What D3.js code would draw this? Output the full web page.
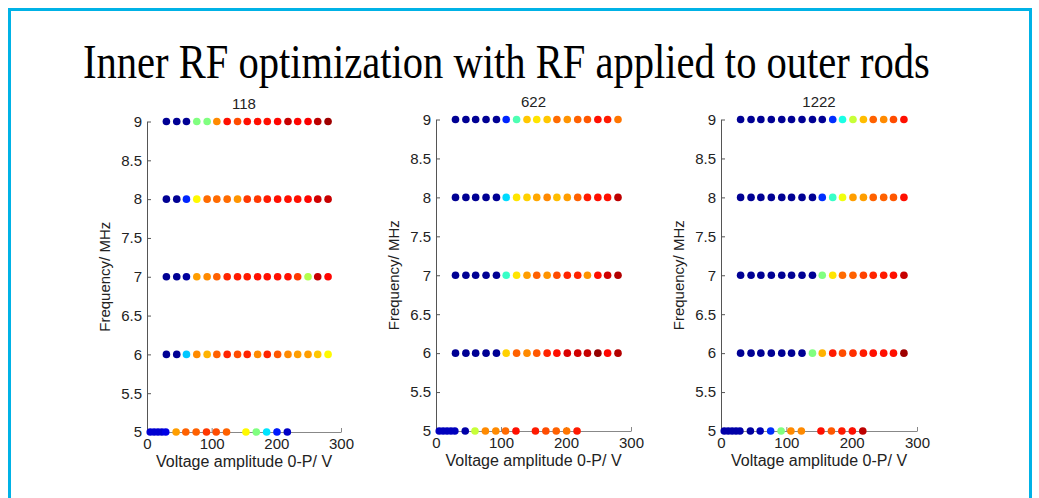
<!DOCTYPE html>
<html>
<head>
<meta charset="utf-8">
<script src="https://cdn.jsdelivr.net/npm/d3@7"></script>
<style>
  body { margin: 0; background: #fff; }
  text { font-family: "Liberation Sans", Arial, sans-serif; fill: #222; }
</style>
</head>
<body>
<script>
"use strict";

// frequencies (MHz), rows top to bottom
let frequencies = [9, 8, 7, 6, 5];
let yTicks = [5, 5.5, 6, 6.5, 7, 7.5, 8, 8.5, 9];
let xTicks = [0, 100, 200, 300];
let panelTitles = ["118", "622", "1222"];

// voltages used for the 6-9 MHz rows and for the 5 MHz row
let voltsFull = [30, 46, 61, 77, 93, 108, 124, 140, 155, 171, 186, 202, 218, 233, 249, 264, 280];
let voltsLow = [5, 11, 17, 23, 29, 45, 60, 76, 92, 107, 123, 153, 169, 185, 201, 217];

// relative signal (0..1 on the jet colour map), one row per frequency
let signal118 = [
  [0.02, 0.02, 0.02, 0.5, 0.5, 0.74, 0.86, 0.8, 0.86, 0.86, 0.86, 0.87, 0.93, 0.87, 0.88, 0.94, 0.97],
  [0.02, 0.02, 0.16, 0.63, 0.77, 0.77, 0.77, 0.73, 0.82, 0.82, 0.85, 0.86, 0.86, 0.86, 0.87, 0.92, 0.93],
  [0.02, 0.02, 0.03, 0.72, 0.74, 0.78, 0.84, 0.85, 0.85, 0.86, 0.86, 0.86, 0.86, 0.82, 0.55, 0.93, 0.87],
  [0.02, 0.02, 0.32, 0.74, 0.7, 0.78, 0.84, 0.8, 0.84, 0.74, 0.84, 0.79, 0.74, 0.72, 0.72, 0.68, 0.63],
  [0.08, 0.08, 0.08, 0.08, 0.1, 0.72, 0.78, 0.78, 0.82, 0.8, 0.78, 0.63, 0.5, 0.35, 0.15, 0.07]
];
let signal622 = [
  [0.02, 0.02, 0.02, 0.02, 0.02, 0.16, 0.45, 0.68, 0.65, 0.68, 0.77, 0.73, 0.78, 0.79, 0.86, 0.85, 0.76],
  [0.02, 0.02, 0.02, 0.02, 0.02, 0.34, 0.65, 0.67, 0.71, 0.74, 0.69, 0.72, 0.78, 0.85, 0.86, 0.86, 0.94],
  [0.02, 0.02, 0.02, 0.02, 0.02, 0.43, 0.65, 0.72, 0.78, 0.73, 0.8, 0.84, 0.84, 0.73, 0.86, 0.92, 0.95],
  [0.02, 0.02, 0.02, 0.02, 0.02, 0.67, 0.78, 0.74, 0.79, 0.84, 0.86, 0.91, 0.92, 0.93, 0.98, 0.87, 0.95],
  [0.06, 0.06, 0.06, 0.06, 0.06, 0.04, 0.57, 0.74, 0.74, 0.77, 0.86, 0.85, 0.8, 0.78, 0.76, 0.85]
];
let signal1222 = [
  [0.02, 0.02, 0.02, 0.02, 0.02, 0.02, 0.02, 0.02, 0.02, 0.17, 0.4, 0.57, 0.69, 0.78, 0.74, 0.8, 0.86],
  [0.02, 0.02, 0.02, 0.02, 0.02, 0.02, 0.02, 0.02, 0.17, 0.43, 0.61, 0.72, 0.72, 0.78, 0.78, 0.79, 0.86],
  [0.02, 0.02, 0.02, 0.02, 0.02, 0.02, 0.02, 0.02, 0.5, 0.65, 0.77, 0.78, 0.81, 0.84, 0.85, 0.86, 0.93],
  [0.02, 0.02, 0.02, 0.02, 0.02, 0.02, 0.02, 0.5, 0.7, 0.85, 0.8, 0.83, 0.85, 0.86, 0.86, 0.86, 0.97],
  [0.04, 0.04, 0.04, 0.04, 0.04, 0.03, 0.05, 0.17, 0.5, 0.74, 0.74, 0.86, 0.79, 0.85, 0.86, 0.94]
];
let signals = [signal118, signal622, signal1222];

let width = 1039;
let height = 498;

let svg = d3.select("body").append("svg").attr("width", width).attr("height", height);

// cyan frame
svg.append("rect")
  .attr("x", 9.5).attr("y", 9.5)
  .attr("width", 1021).attr("height", 520)
  .attr("fill", "none")
  .attr("stroke", "#00b2e6")
  .attr("stroke-width", 3);

// title is narrow in the original, so squeeze it horizontally
let title = svg.append("text")
  .attr("x", 0).attr("y", 0)
  .style("font-family", "'Liberation Serif', 'Times New Roman', serif")
  .style("font-size", "48px")
  .style("fill", "#000")
  .text("Inner RF optimization with RF applied to outer rods");
let titleLen = title.node().getComputedTextLength();
title.attr("transform", "translate(83,78) scale(" + (847 / titleLen) + ",1)");

// jet colour map
let jet = function (t) {
  let c = v => Math.round(255 * Math.max(0, Math.min(1, v)));
  return d3.rgb(c(1.5 - Math.abs(4 * t - 3)), c(1.5 - Math.abs(4 * t - 2)), c(1.5 - Math.abs(4 * t - 1)));
};

let panels = [
  { left: 147, right: 341, top: 121.5, bottom: 432 },
  { left: 436, right: 631, top: 119.5, bottom: 431 },
  { left: 721, right: 917, top: 119.5, bottom: 431 }
];

panels.forEach(function (p, k) {
  let x = d3.scaleLinear().domain([0, 300]).range([p.left, p.right]);
  let y = d3.scaleLinear().domain([5, 9]).range([p.bottom, p.top]);
  let g = svg.append("g");

  let xAxis = g.append("g")
    .attr("transform", "translate(0," + p.bottom + ")")
    .call(d3.axisBottom(x).tickValues(xTicks).tickSizeInner(-4).tickSizeOuter(0).tickPadding(6));
  xAxis.selectAll("path, line").attr("stroke", "#888");

  let yAxis = g.append("g")
    .attr("transform", "translate(" + p.left + ",0)")
    .call(d3.axisLeft(y).tickValues(yTicks).tickFormat(d3.format("")).tickSizeInner(-4).tickSizeOuter(0).tickPadding(5));
  yAxis.selectAll("path, line").attr("stroke", "#555");

  g.selectAll(".tick text")
    .style("font-family", "'Liberation Sans', Arial, sans-serif")
    .style("font-size", "15px")
    .attr("fill", "#111");

  g.append("text")
    .attr("x", (p.left + p.right) / 2).attr("y", p.top - 13)
    .attr("text-anchor", "middle")
    .style("font-size", "15px")
    .text(panelTitles[k]);

  g.append("text")
    .attr("x", (p.left + p.right) / 2).attr("y", p.bottom + 35)
    .attr("text-anchor", "middle")
    .style("font-size", "16px")
    .text("Voltage amplitude 0-P/ V");

  g.append("text")
    .attr("transform", "translate(" + (p.left - 37) + "," + ((p.top + p.bottom) / 2) + ") rotate(-90)")
    .attr("text-anchor", "middle")
    .style("font-size", "15px")
    .text("Frequency/ MHz");

  let points = [];
  frequencies.forEach(function (f, r) {
    let volts = f === 5 ? voltsLow : voltsFull;
    volts.forEach(function (v, i) {
      points.push({ f: f, v: v, s: signals[k][r][i] });
    });
  });

  g.append("g").selectAll("circle")
    .data(points)
    .enter()
    .append("circle")
    .attr("cx", d => x(d.v))
    .attr("cy", d => y(d.f))
    .attr("r", 3.8)
    .attr("fill", d => jet(d.s));
});
</script>
</body>
</html>
